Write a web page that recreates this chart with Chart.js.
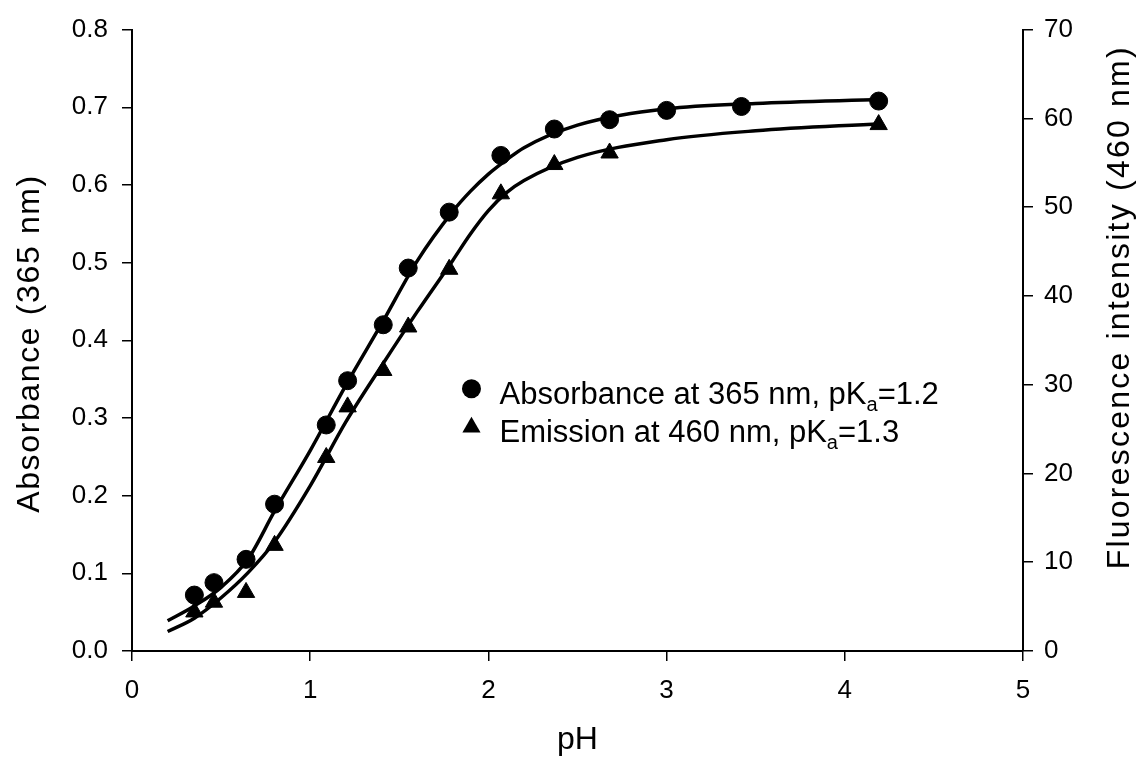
<!DOCTYPE html>
<html>
<head>
<meta charset="utf-8">
<script src="https://cdn.jsdelivr.net/npm/chart.js@4.4.1/dist/chart.umd.min.js"></script>
<style>
    html, body { margin: 0; padding: 0; background: #fff; }
    #wrap { width: 1145px; height: 770px; }
</style>
</head>
<body>
<div id="wrap"><canvas id="phChart" width="1145" height="770"></canvas></div>
<script>
const phAbs = [0.35, 0.46, 0.64, 0.80, 1.09, 1.21, 1.41, 1.55, 1.78, 2.07, 2.37, 2.68, 3.00, 3.42, 4.19];
const absorbance = [0.072, 0.088, 0.118, 0.189, 0.291, 0.348, 0.420, 0.493, 0.565, 0.638, 0.672, 0.684, 0.696, 0.701, 0.708];

const phEm = [0.35, 0.46, 0.64, 0.80, 1.09, 1.21, 1.41, 1.55, 1.78, 2.07, 2.37, 2.68, 4.19];
const emission = [4.4, 5.5, 6.6, 11.9, 21.8, 27.5, 31.6, 36.5, 43.0, 51.5, 54.8, 56.1, 59.3];

// Fitted sigmoid curves
const fitPh = [0.2, 0.35, 0.5, 0.65, 0.8, 1.0, 1.2, 1.4, 1.6, 1.8, 1.9, 2.0, 2.1, 2.2, 2.5, 3.0, 3.5, 4.2];
const fitAbs = [0.039, 0.058, 0.082, 0.118, 0.180, 0.258, 0.342, 0.421, 0.502, 0.566, 0.592, 0.614, 0.632, 0.648, 0.677, 0.698, 0.705, 0.710];
const fitEm = [2.2, 3.7, 6.0, 8.8, 12.3, 18.6, 25.8, 32.1, 38.2, 44.0, 47.0, 49.6, 51.6, 53.0, 55.6, 57.6, 58.6, 59.4];

// Axis ranges / tick steps
const xRange = [0, 5], xStep = 1;
const absRange = [0, 0.8], absStep = 0.1;
const emRange = [0, 70], emStep = 10;

const xTitle = 'pH';
const leftTitle = 'Absorbance (365 nm)';
const rightTitle = 'Fluorescence intensity (460 nm)';

const legendRows = [
    { marker: 'circle', text: 'Absorbance at 365 nm, pK', sub: 'a', tail: '=1.2' },
    { marker: 'triangle', text: 'Emission at 460 nm, pK', sub: 'a', tail: '=1.3' }
];

const FONT = "'Liberation Sans', Arial, Helvetica, sans-serif";
Chart.defaults.font.family = FONT;
Chart.defaults.color = '#000';

const toXY = (xs, ys) => xs.map((x, i) => ({ x: x, y: ys[i] }));

function drawMarker(ctx, style, x, y) {
    ctx.beginPath();
    if (style === 'circle') {
        ctx.arc(x, y, 9.5, 0, Math.PI * 2);
    } else {
        const r = 10.5;
        ctx.moveTo(x, y - r);
        ctx.lineTo(x + r * Math.sqrt(3) / 2, y + r / 2);
        ctx.lineTo(x - r * Math.sqrt(3) / 2, y + r / 2);
        ctx.closePath();
    }
    ctx.fill();
}

// rotated axis title, spread out to the length it has in the original
function drawSideTitle(ctx, text, x, yMid, length) {
    ctx.save();
    ctx.font = '32px ' + FONT;
    const plain = ctx.measureText(text).width;
    if ('letterSpacing' in ctx) ctx.letterSpacing = ((length - plain) / (text.length - 1)).toFixed(2) + 'px';
    ctx.translate(x, yMid);
    ctx.rotate(-Math.PI / 2);
    ctx.fillStyle = '#000';
    ctx.textAlign = 'left';
    ctx.textBaseline = 'middle';
    ctx.fillText(text, -length / 2, 0);
    ctx.restore();
}

const sideTitles = {
    id: 'sideTitles',
    afterDraw(chart) {
        const { ctx, chartArea: a } = chart;
        const mid = (a.top + a.bottom) / 2;
        drawSideTitle(ctx, leftTitle, a.left - 102, mid + 4, 337);
        drawSideTitle(ctx, rightTitle, a.right + 97, mid - 32, 522);
    }
};

// Legend with subscript, drawn inside the plot
const innerLegend = {
    id: 'innerLegend',
    afterDraw(chart) {
        const { ctx, chartArea: a } = chart;
        const mx = a.left + (a.right - a.left) * 0.381;
        const y0 = a.top + (a.bottom - a.top) * 0.578;
        const rowGap = 38.5;
        ctx.save();
        ctx.fillStyle = '#000';
        ctx.textBaseline = 'alphabetic';
        legendRows.forEach((row, i) => {
            const y = y0 + i * rowGap;
            drawMarker(ctx, row.marker, mx, y);
            let tx = mx + 28;
            ctx.font = '31px ' + FONT;
            ctx.fillText(row.text, tx, y + 15);
            tx += ctx.measureText(row.text).width;
            ctx.font = '20px ' + FONT;
            ctx.fillText(row.sub, tx, y + 22);
            tx += ctx.measureText(row.sub).width;
            ctx.font = '31px ' + FONT;
            ctx.fillText(row.tail, tx, y + 15);
        });
        ctx.restore();
    }
};

const axisGrid = { drawOnChartArea: false, drawTicks: true, tickLength: 10, color: '#000', lineWidth: 1.5 };
const axisBorder = { display: true, color: '#000', width: 2 };

new Chart(document.getElementById('phChart'), {
    type: 'scatter',
    data: {
        datasets: [
            {
                label: 'Absorbance fit',
                type: 'line',
                data: toXY(fitPh, fitAbs),
                yAxisID: 'y',
                borderColor: '#000',
                borderWidth: 3.5,
                pointRadius: 0,
                cubicInterpolationMode: 'monotone',
                fill: false
            },
            {
                label: 'Emission fit',
                type: 'line',
                data: toXY(fitPh, fitEm),
                yAxisID: 'y2',
                borderColor: '#000',
                borderWidth: 3.5,
                pointRadius: 0,
                cubicInterpolationMode: 'monotone',
                fill: false
            },
            {
                label: 'Absorbance at 365 nm',
                data: toXY(phAbs, absorbance),
                yAxisID: 'y',
                pointStyle: 'circle',
                pointRadius: 9,
                borderWidth: 1,
                borderColor: '#000',
                backgroundColor: '#000'
            },
            {
                label: 'Emission at 460 nm',
                data: toXY(phEm, emission),
                yAxisID: 'y2',
                pointStyle: 'triangle',
                pointRadius: 10,
                borderWidth: 1,
                borderColor: '#000',
                backgroundColor: '#000'
            }
        ]
    },
    options: {
        responsive: false,
        animation: false,
        devicePixelRatio: 1,
        layout: { padding: { top: 24, left: 0, right: 0, bottom: 0 } },
        plugins: { legend: { display: false }, tooltip: { enabled: false } },
        scales: {
            x: {
                type: 'linear',
                min: xRange[0], max: xRange[1],
                grid: axisGrid,
                border: axisBorder,
                ticks: { stepSize: xStep, padding: 14, font: { size: 26 }, color: '#000' },
                title: { display: true, text: xTitle, font: { size: 32 }, color: '#000', padding: { top: 0, bottom: 11 } },
                afterFit: s => { s.height = 119; }
            },
            y: {
                position: 'left',
                min: absRange[0], max: absRange[1],
                grid: axisGrid,
                border: axisBorder,
                ticks: {
                    stepSize: absStep, padding: 14, font: { size: 26 }, color: '#000',
                    callback: v => Number(v).toFixed(1)
                },
                afterFit: s => { s.width = 132; }
            },
            y2: {
                position: 'right',
                min: emRange[0], max: emRange[1],
                grid: axisGrid,
                border: axisBorder,
                ticks: { stepSize: emStep, padding: 11, font: { size: 26 }, color: '#000' },
                afterFit: s => { s.width = 122; }
            }
        }
    },
    plugins: [sideTitles, innerLegend]
});
</script>
</body>
</html>
